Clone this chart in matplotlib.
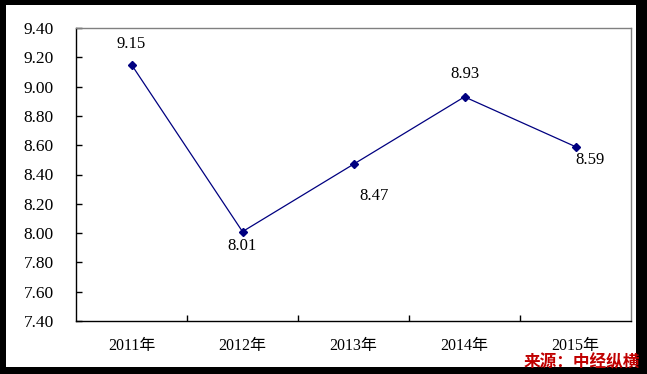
import matplotlib
matplotlib.use("Agg")
import matplotlib.pyplot as plt
from matplotlib.patches import Rectangle

years = ["2011年", "2012年", "2013年", "2014年", "2015年"]
values = [9.15, 8.01, 8.47, 8.93, 8.59]
value_labels = ["9.15", "8.01", "8.47", "8.93", "8.59"]
yticks = [7.40, 7.60, 7.80, 8.00, 8.20, 8.40, 8.60, 8.80, 9.00, 9.20, 9.40]
# label offsets in pixels (dx, dy), y up
offsets = [(0, 21), (0, -14), (21, -32), (0, 23), (14, -13)]

plt.rcParams['font.family'] = ['Liberation Serif', 'Noto Sans CJK SC']

fig = plt.figure(figsize=(6.47, 3.74), dpi=100)
fig.patch.set_facecolor("black")
fig.patches.append(Rectangle((6 / 647, 1 - 367 / 374), 630 / 647, 362 / 374,
                             transform=fig.transFigure, facecolor="white",
                             edgecolor="none", zorder=-10))

ax = fig.add_axes([76 / 647, 1 - 321 / 374, 555 / 647, 293 / 374])
ax.set_facecolor("white")
x = list(range(len(years)))
ax.plot(x, values, color="#000080", lw=0.9, marker="D", ms=4.5,
        markerfacecolor="#000080", markeredgecolor="#000080")

for xi, v, lab, (dx, dy) in zip(x, values, value_labels, offsets):
    ax.annotate(lab, (xi, v), xytext=(dx * 0.72, dy * 0.72), textcoords="offset points",
                ha="center", va="center", fontsize=12)

ax.set_xlim(-0.5, len(years) - 0.5)
ax.set_ylim(7.4, 9.4)
ax.set_yticks(yticks)
ax.set_yticklabels(["%.2f" % t for t in yticks], fontsize=12.5)
ax.set_xticks(x)
ax.set_xticklabels(years, fontsize=11.5)
ax.set_xticks([i + 0.5 for i in x[:-1]], minor=True)
ax.tick_params(axis="x", which="major", length=0, pad=12)
ax.tick_params(axis="x", which="minor", direction="in", length=4, width=1)
ax.tick_params(axis="y", direction="in", length=4, width=1, pad=16)

for side in ["top", "right"]:
    ax.spines[side].set_color("#808080")
    ax.spines[side].set_linewidth(1)
for side in ["left", "bottom"]:
    ax.spines[side].set_color("black")
    ax.spines[side].set_linewidth(1)

fig.text(582 / 647, 1 - 362 / 374, "来源：中经纵横", color="#c00000", fontsize=12,
         fontweight="bold", style="italic", ha="center", va="center",
         family=["Noto Sans CJK SC"])

fig.savefig("out.png", dpi=100, facecolor=fig.get_facecolor())
